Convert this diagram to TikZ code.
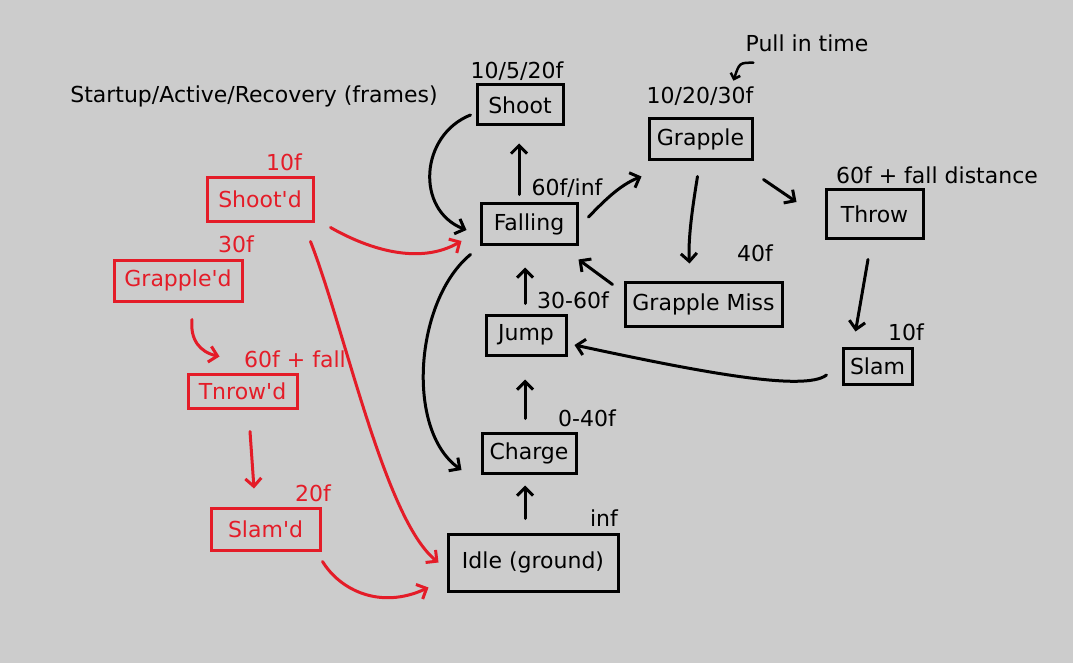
\documentclass[tikz,border=0pt]{standalone}
\usepackage{fontspec}
\setmainfont{DejaVu Sans}
\usetikzlibrary{arrows.meta,calc}
\definecolor{bg}{RGB}{204,204,204}
\definecolor{hred}{RGB}{228,28,40}
\tikzset{
  box/.style={draw=black,line width=3pt,minimum width=#1,inner sep=0pt,font=\fontsize{22}{26}\selectfont},
  rbox/.style={draw=hred,text=hred,line width=3pt,minimum width=#1,inner sep=0pt,font=\fontsize{22}{26}\selectfont},
  lbl/.style={font=\fontsize{22}{26}\selectfont,inner sep=0pt},
  rlbl/.style={font=\fontsize{22}{26}\selectfont,inner sep=0pt,text=hred},
  arr/.style={line width=3pt,line cap=round,-{Straight Barb[length=8pt,width=16pt,line width=3pt]}},
  smallarr/.style={line width=2.5pt,line cap=round,-{Straight Barb[length=5pt,width=10pt,line width=2.5pt]}},
  rarr/.style={arr,draw=hred},
}
\begin{document}
\begin{tikzpicture}[x=1pt,y=-1pt]
\fill[bg] (0,0) rectangle (1073,663);
\useasboundingbox (0,0) rectangle (1073,663);
% black boxes
\node[box=86pt,minimum height=40pt] (shoot) at (520,105) {Shoot};
\node[box=103pt,minimum height=41pt] (grapple) at (700.5,139.5) {Grapple};
\node[box=97pt,minimum height=48pt] (throw) at (874.5,214) {Throw};
\node[box=96pt,minimum height=40pt] (falling) at (529,224) {Falling};
\node[box=157pt,minimum height=44pt] (gmiss) at (703.5,304) {Grapple Miss};
\node[box=80pt,minimum height=40pt] (jump) at (526,335) {Jump};
\node[box=69pt,minimum height=36pt] (slam) at (877.5,366) {Slam};
\node[box=94pt,minimum height=40pt] (charge) at (529,453) {Charge};
\node[box=170pt,minimum height=57pt] (idle) at (533,562.5) {Idle (ground)};
% red boxes
\node[rbox=106pt,minimum height=43pt] (shootd) at (260,199.5) {Shoot\textquotesingle d};
\node[rbox=128pt,minimum height=41pt] (grappled) at (178,280.5) {Grapple\textquotesingle d};
\node[rbox=109pt,minimum height=34pt] (throwd) at (242.5,391) {Tnrow\textquotesingle d};
\node[rbox=109pt,minimum height=42pt] (slamd) at (265.5,529) {Slam\textquotesingle d};
% labels
\node[lbl] (lshoot) at (517,71) {10/5/20f};
\node[lbl] (lgrapple) at (700,96) {10/20/30f};
\node[lbl] (pull) at (807,43) {Pull in time};
\node[lbl] (lthrow) at (937,175) {60f + fall distance};
\node[lbl] (lfalling) at (567,188) {60f/inf};
\node[lbl] (lgmiss) at (755,253) {40f};
\node[lbl] (ljump) at (573,300) {30-60f};
\node[lbl] (lslam) at (906,332) {10f};
\node[lbl] (lcharge) at (587,418) {0-40f};
\node[lbl] (lidle) at (604,518) {inf};
\node[lbl] (legend) at (254,96) {Startup/Active/Recovery (frames)};
\node[rlbl] (lshootd) at (284,162) {10f};
\node[rlbl] (lgrappled) at (236,244) {30f};
\node[rlbl] (lthrowd) at (295,359) {60f + fall};
\node[rlbl] (lslamd) at (313,493) {20f};
% black connectors
\draw[smallarr] ($(pull.south west)+(8,11)$) .. controls ($(pull.south west)+(-6,11)$) .. ($(pull.south west)+(-12,29)$);
\draw[arr] ($(falling.north)+(-10,-8)$) -- ($(shoot.south)+(-1,17)$);
\draw[arr] ($(shoot.west)+(-5,10)$) .. controls (420,135) and (415,210) .. ($(falling.west)+(-13,6)$);
\draw[arr] ($(falling.east)+(10,-7)$) .. controls (605,200) and (620,185) .. ($(grapple.south west)+(-6,15)$);
\draw[arr] ($(grapple.south)+(-3,15)$) .. controls (692,210) and (688,240) .. ($(gmiss.north)+(-14,-17)$);
\draw[arr] ($(grapple.south east)+(10,18)$) -- ($(throw.west)+(-28,-12)$);
\draw[arr] ($(throw.south)+(-6.5,20)$) -- ($(slam.north)+(-22,-15)$);
\draw[arr] ($(gmiss.north west)+(-11,4)$) -- ($(falling.south east)+(0,14)$);
\draw[arr] ($(jump.north)+(-1,-10)$) -- ($(falling.south)+(-4,22)$);
\draw[arr] ($(slam.west)+(-15,9)$) .. controls (805,392) and (700,372) .. ($(jump.east)+(7,10)$);
\draw[arr] ($(falling.south west)+(-9,9)$) .. controls (415,300) and (405,430) .. ($(charge.west)+(-19,17)$);
\draw[arr] ($(charge.north)+(-4,-13)$) -- ($(jump.south)+(-1,23)$);
\draw[arr] ($(idle.north)+(-8,-14)$) -- ($(charge.south)+(-4,11)$);
% red connectors
\draw[rarr] ($(shootd.south east)+(16,5)$) .. controls (370,250) and (420,265) .. ($(falling.west)+(-18,17)$);
\draw[rarr] ($(shootd.south east)+(-4,19)$) .. controls (345,330) and (385,520) .. ($(idle.west)+(-8,0)$);
\draw[rarr] ($(grappled.south)+(14,17)$) .. controls (190,340) and (200,352) .. ($(throwd.north)+(-23,-16)$);
\draw[rarr] ($(throwd.south)+(7.5,22)$) -- ($(slamd.north)+(-11.5,-18)$);
\draw[rarr] ($(slamd.south east)+(1,10)$) .. controls (340,590) and (380,610) .. ($(idle.west)+(-18,25)$);
\end{tikzpicture}
\end{document}
